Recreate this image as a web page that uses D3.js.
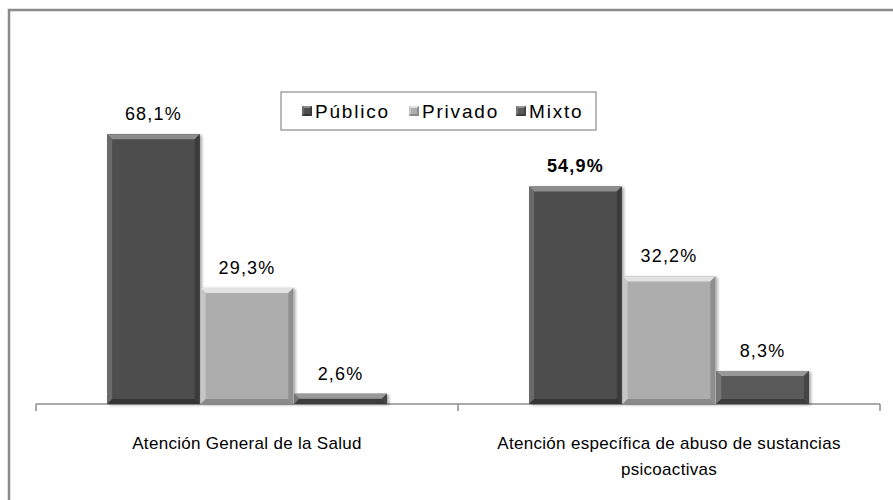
<!DOCTYPE html>
<html>
<head>
<meta charset="utf-8">
<script src="https://cdn.jsdelivr.net/npm/d3@7"></script>
<style>
  body { margin: 0; background: #fff; }
  text { font-family: "Liberation Sans", Arial, sans-serif; fill: #000; }
</style>
</head>
<body>
<div id="chart"></div>
<script>
// data
var categories = ["Atención General de la Salud", "Atención específica de abuso de sustancias psicoactivas"]
var catLines = [["Atención General de la Salud"], ["Atención específica de abuso de sustancias", "psicoactivas"]]
var seriesNames = ["Público", "Privado", "Mixto"]
var publico = [68.1, 54.9]
var privado = [29.3, 32.2]
var mixto = [2.6, 8.3]
var valueLabels = [["68,1%", "54,9%"], ["29,3%", "32,2%"], ["2,6%", "8,3%"]]
var boldLabels = [[false, true], [false, false], [false, false]]

var colors = {
  "Público": { main: "#4e4e4e", top: "#8c8c8c", left: "#6a6a6a", right: "#3a3a3a", bottom: "#353535" },
  "Privado": { main: "#adadad", top: "#e2e2e2", left: "#c6c6c6", right: "#8e8e8e", bottom: "#8a8a8a" },
  "Mixto":   { main: "#5a5a5a", top: "#989898", left: "#767676", right: "#444444", bottom: "#3e3e3e" }
}

var width = 893, height = 500
var margin = {left: 36, right: 13, top: 87, bottom: 96}

var svg = d3.select("#chart").append("svg")
  .attr("width", width)
  .attr("height", height)

// outer frame (runs off the right and bottom of the picture)
svg.append("rect")
  .attr("x", 9).attr("y", 10)
  .attr("width", 1000).attr("height", 1000)
  .attr("fill", "none")
  .attr("stroke", "#8a8a8a")
  .attr("stroke-width", 2.5)

var x0 = d3.scaleBand()
  .domain(categories)
  .range([margin.left, width - margin.right])
  .paddingInner(0)
  .paddingOuter(0)

var x1 = d3.scaleBand()
  .domain(seriesNames)
  .range([0, x0.bandwidth()])
  .paddingInner(0.01)
  .paddingOuter(0.76)

var y = d3.scaleLinear()
  .domain([0, 80])
  .range([height - margin.bottom, margin.top])

var rows = []
categories.forEach(function (c, i) {
  seriesNames.forEach(function (s, j) {
    var v = [publico, privado, mixto][j][i]
    rows.push({cat: c, series: s, value: v, label: valueLabels[j][i], bold: boldLabels[j][i]})
  })
})

// axis
var axis = svg.append("g")
  .attr("transform", "translate(0," + y(0) + ")")
axis.append("line")
  .attr("x1", x0.range()[0]).attr("x2", x0.range()[1])
  .attr("stroke", "#8c8c8c").attr("stroke-width", 1.5)
var tickPos = categories.map(function (c) { return x0(c) }).concat([x0.range()[1]])
axis.selectAll(".tick").data(tickPos).enter().append("line")
  .attr("x1", function (d) { return d }).attr("x2", function (d) { return d })
  .attr("y1", 0).attr("y2", 7)
  .attr("stroke", "#8c8c8c").attr("stroke-width", 1.5)

// shadow filter
var defs = svg.append("defs")
var f = defs.append("filter").attr("id", "shadow").attr("x", "-10%").attr("y", "-10%").attr("width", "130%").attr("height", "130%")
f.append("feGaussianBlur").attr("in", "SourceAlpha").attr("stdDeviation", 1.5)
f.append("feOffset").attr("dx", 2).attr("dy", 1).attr("result", "off")
f.append("feComponentTransfer").append("feFuncA").attr("type", "linear").attr("slope", 0.35)
var fm = f.append("feMerge")
fm.append("feMergeNode")
fm.append("feMergeNode").attr("in", "SourceGraphic")

function bevelBar(g, bx0, by0, bx1, by1, col, b) {
  b = Math.min(b, (by1 - by0) / 2, (bx1 - bx0) / 2)
  g.append("rect")
    .attr("x", bx0).attr("y", by0)
    .attr("width", bx1 - bx0).attr("height", by1 - by0)
    .attr("fill", col.main)
  var polys = [
    [[bx0, by0], [bx1, by0], [bx1 - b, by0 + b], [bx0 + b, by0 + b], col.top],
    [[bx0, by0], [bx0 + b, by0 + b], [bx0 + b, by1 - b], [bx0, by1], col.left],
    [[bx1, by0], [bx1 - b, by0 + b], [bx1 - b, by1 - b], [bx1, by1], col.right],
    [[bx0, by1], [bx0 + b, by1 - b], [bx1 - b, by1 - b], [bx1, by1], col.bottom]
  ]
  polys.forEach(function (p) {
    g.append("polygon")
      .attr("points", p.slice(0, 4).map(function (q) { return q.join(",") }).join(" "))
      .attr("fill", p[4])
  })
}

// bars
var bars = svg.append("g")
rows.forEach(function (d) {
  var g = bars.append("g").attr("filter", "url(#shadow)")
  var bx = x0(d.cat) + x1(d.series)
  bevelBar(g, bx, y(d.value), bx + x1.bandwidth(), y(0), colors[d.series], 5)
})

// value labels
svg.append("g").selectAll("text").data(rows).enter().append("text")
  .attr("x", function (d) { return x0(d.cat) + x1(d.series) + x1.bandwidth() / 2 })
  .attr("y", function (d) { return y(d.value) - 14 })
  .attr("text-anchor", "middle")
  .attr("font-size", 18)
  .attr("letter-spacing", 1.2)
  .attr("font-weight", function (d) { return d.bold ? "bold" : "normal" })
  .text(function (d) { return d.label })

// category labels
categories.forEach(function (c, i) {
  var t = svg.append("text")
    .attr("x", x0(c) + x0.bandwidth() / 2)
    .attr("y", y(0) + 45)
    .attr("text-anchor", "middle")
    .attr("font-size", 17)
    .attr("letter-spacing", 0.3)
  catLines[i].forEach(function (line, k) {
    t.append("tspan")
      .attr("x", x0(c) + x0.bandwidth() / 2)
      .attr("dy", k == 0 ? 0 : 26)
      .text(line)
  })
})

// legend
var legend = svg.append("g").attr("transform", "translate(281,92)")
legend.append("rect")
  .attr("width", 315).attr("height", 38)
  .attr("fill", "#fff")
  .attr("stroke", "#8c8c8c").attr("stroke-width", 1.2)
var legX = [21, 128, 235]
seriesNames.forEach(function (s, i) {
  var lg = legend.append("g").attr("transform", "translate(" + legX[i] + ",14)")
  bevelBar(lg, 0, 0, 10, 10, colors[s], 2)
  lg.append("text")
    .attr("x", 13).attr("y", 12)
    .attr("font-size", 19)
    .attr("letter-spacing", 1.8)
    .text(s)
})
</script>
</body>
</html>
